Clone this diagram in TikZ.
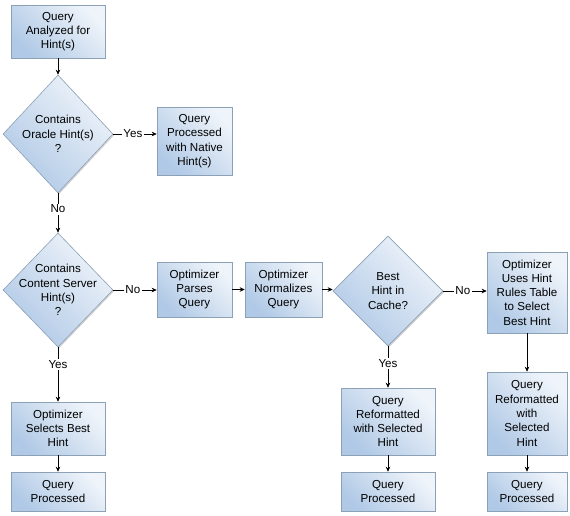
\documentclass[tikz,border=0pt]{standalone}
\usepackage{fontspec}
\setmainfont{Liberation Sans}
\usetikzlibrary{shapes.geometric,arrows.meta,shadows}
\definecolor{boxdark}{HTML}{B0C9E6}
\definecolor{boxlight}{HTML}{EFF4FA}
\definecolor{boxline}{HTML}{8CA0B6}
\tikzset{
  txtfont/.style={font=\fontsize{11.6}{14.3}\selectfont},
  flowbox/.style={draw=boxline, line width=0.6pt, top color=boxlight, bottom color=boxdark, shading angle=-45,
    drop shadow={shadow xshift=1.2pt, shadow yshift=-1.2pt, fill=black!50, opacity=0.35},
    align=center, inner sep=0pt, txtfont},
  decision/.style={diamond, draw=boxline, line width=0.6pt, top color=boxlight, bottom color=boxdark, shading angle=-45,
    drop shadow={shadow xshift=1.2pt, shadow yshift=-1.2pt, fill=black!50, opacity=0.35},
    inner sep=0pt},
  dtext/.style={align=center, inner sep=0pt, txtfont},
  arr/.style={-{Stealth[length=5pt,width=4.5pt]}, line width=0.6pt},
  lbl/.style={fill=white, inner sep=1.5pt, txtfont}
}
\begin{document}
\begin{tikzpicture}[x=1pt,y=-1pt]
\useasboundingbox (0,0) rectangle (570,515);
% boxes
\node[flowbox, minimum width=94pt, minimum height=53pt] (b1) at (58,31.5) {Query\\Analyzed for\\Hint(s)};
\node[decision, minimum width=110pt, minimum height=118pt] (d1) at (58,134) {};
\node[dtext] (t1) at (d1) {Contains\\Oracle Hint(s)\\?};
\node[flowbox, minimum width=75pt, minimum height=68pt] (b2) at (194.5,141) {Query\\Processed\\with Native\\Hint(s)};
\node[decision, minimum width=110pt, minimum height=114pt] (d2) at (58,290) {};
\node[dtext] (t2) at (d2) {Contains\\Content Server\\Hint(s)\\?};
\node[flowbox, minimum width=75pt, minimum height=55pt] (b3) at (194.5,289.5) {Optimizer\\Parses\\Query};
\node[flowbox, minimum width=77pt, minimum height=55pt] (b4) at (283.5,289.5) {Optimizer\\Normalizes\\Query};
\node[decision, minimum width=110pt, minimum height=110pt] (d3) at (388,291) {};
\node[dtext] (t3) at (d3) {Best\\Hint in\\Cache?};
\node[flowbox, minimum width=80pt, minimum height=81pt] (b5) at (527,292.5) {Optimizer\\Uses Hint\\Rules Table\\to Select\\Best Hint};
\node[flowbox, minimum width=94pt, minimum height=53pt] (b6) at (58,428.5) {Optimizer\\Selects Best\\Hint};
\node[flowbox, minimum width=94pt, minimum height=39pt] (b7) at (58,491.5) {Query\\Processed};
\node[flowbox, minimum width=94pt, minimum height=67pt] (b8) at (388,421.5) {Query\\Reformatted\\with Selected\\Hint};
\node[flowbox, minimum width=94pt, minimum height=39pt] (b9) at (388,491.5) {Query\\Processed};
\node[flowbox, minimum width=80pt, minimum height=83pt] (b10) at (527,413.5) {Query\\Reformatted\\with\\Selected\\Hint};
\node[flowbox, minimum width=80pt, minimum height=39pt] (b11) at (527,491.5) {Query\\Processed};
% connectors
\draw[arr] (b1.south) -- (d1.north);
\draw[arr] (d1.east) -- node[lbl, pos=0.45] {Yes} (d1.east -| b2.west);
\draw[arr] (d1.south) -- node[lbl, pos=0.4] {No} (d2.north);
\draw[arr] (d2.east) -- node[lbl, pos=0.45] {No} (d2.east -| b3.west);
\draw[arr] (b3.east) -- (b4.west);
\draw[arr] (b4.east) -- (b4.east -| d3.west);
\draw[arr] (d3.east) -- node[lbl, pos=0.45] {No} (d3.east -| b5.west);
\draw[arr] (d2.south) -- node[lbl, pos=0.31] {Yes} (b6.north);
\draw[arr] (b6.south) -- (b7.north);
\draw[arr] (d3.south) -- node[lbl, pos=0.41] {Yes} (b8.north);
\draw[arr] (b8.south) -- (b9.north);
\draw[arr] (b5.south) -- (b10.north);
\draw[arr] (b10.south) -- (b11.north);
\end{tikzpicture}
\end{document}
